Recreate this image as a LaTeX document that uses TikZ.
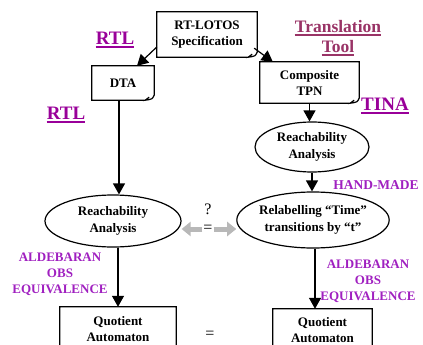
\documentclass[tikz,border=0pt]{standalone}
\usepackage{fontspec}
\setmainfont{Liberation Serif}
\usetikzlibrary{arrows.meta,shapes.geometric,calc}
\definecolor{rtlpurple}{RGB}{153,0,153}
\definecolor{toolred}{RGB}{153,51,102}
\definecolor{notepurple}{RGB}{160,32,192}
\begin{document}
\begin{tikzpicture}[x=1pt,y=-1pt,
  note/.style={inner sep=0pt,align=center,font=\fontsize{13}{16}\selectfont\bfseries},
  proc/.style={ellipse,draw,line width=1.2pt,inner sep=0pt,align=center,font=\fontsize{13}{17}\selectfont\bfseries},
  tool/.style={inner sep=0pt,text depth=0pt,font=\fontsize{19}{22}\selectfont\bfseries,text=rtlpurple},
  hint/.style={inner sep=0pt,align=center,font=\fontsize{13}{16}\selectfont\bfseries,text=notepurple},
  flow/.style={line width=1.2pt,-{Triangle[length=11pt,width=12pt]}},
  same/.style={line width=5pt,draw=black!28,-{Triangle[length=9pt,width=14pt]}}
  ]
  \clip (0,0) rectangle (423,345);
  \useasboundingbox (0,0) rectangle (423,345);

  \node[note,minimum width=100pt,minimum height=45pt] (spec) at (207,34.5) {RT-LOTOS\\Specification};
  \node[note,minimum width=62pt,minimum height=34pt] (dta) at (123,83) {DTA};
  \node[note,minimum width=99pt,minimum height=41pt] (tpn) at (309.5,82.5) {Composite\\TPN};
  \node[note,minimum width=116pt,minimum height=45pt] (quotl) at (118,329.5) {Quotient\\Automaton};
  \node[note,minimum width=99pt,minimum height=43pt] (quotr) at (322.5,330.5) {Quotient\\Automaton};
  \foreach \n in {spec,dta,tpn,quotl,quotr}
    \draw[line width=1.2pt] ($(\n.south east)+(-9pt,0pt)$) -- (\n.south west) -- (\n.north west) -- (\n.north east) -- ($(\n.south east)+(0pt,5pt)$)
      .. controls ($(\n.south east)+(-2pt,1pt)$) .. ($(\n.south east)+(-9pt,0pt)$) -- ($(\n.south east)+(-5pt,3pt)$);

  \node[proc,minimum width=114pt,minimum height=50pt] (reachr) at (312,147) {Reachability\\Analysis};
  \node[proc,minimum width=145pt,minimum height=56pt] (relab) at (313,220) {Relabelling “Time”\\transitions by “t”};
  \node[proc,minimum width=136pt,minimum height=52pt] (reachl) at (113,221) {Reachability\\Analysis};

  \node[tool] (rtla) at (115,38) {RTL};
  \node[tool] (rtlb) at (66,113) {RTL};
  \node[tool] (tina) at (385,104) {TINA};
  \node[tool,text=toolred,font=\fontsize{17.5}{20}\selectfont\bfseries] (trans) at (338,26) {Translation};
  \node[tool,text=toolred,font=\fontsize{17.5}{20}\selectfont\bfseries] (tooln) at (338,46) {Tool};
  \foreach \n/\c in {rtla/rtlpurple,rtlb/rtlpurple,tina/rtlpurple,trans/toolred,tooln/toolred}
    \draw[line width=1.6pt,\c] ([yshift=-2.5pt]\n.south west) -- ([yshift=-2.5pt]\n.south east);
  \node[hint,font=\fontsize{13.5}{16}\selectfont\bfseries] (hand) at (376,185) {HAND-MADE};
  \node[hint] (aldl) at (60,274) {ALDEBARAN\\OBS\\EQUIVALENCE};
  \node[hint] (aldr) at (368,281) {ALDEBARAN\\OBS\\EQUIVALENCE};

  \node[font=\fontsize{16}{16}\selectfont] (ask) at (208,209) {?};
  \node[inner sep=1pt,font=\fontsize{16}{16}\selectfont] (eq) at (208,229) {=};
  \node[font=\fontsize{16}{16}\selectfont] (eqb) at (210,335) {=};

  \draw[flow] ([yshift=-12.5pt]spec.west) -- ([xshift=14pt]dta.north);
  \draw[flow] ([shift={(-3pt,9pt)}]spec.south east) -- ([xshift=13pt]tpn.north west);
  \draw[flow] ([xshift=-4pt]dta.south) -- ([xshift=-4pt]dta.south |- reachl.north);
  \draw[flow] (tpn.south) -- (tpn.south |- reachr.north);
  \draw[flow] (reachr.south) -- (reachr.south |- relab.north);
  \draw[flow] (quotl.north |- reachl.south) -- (quotl.north);
  \draw[flow] ([xshift=2pt]relab.south) -- ([xshift=2pt]relab.south |- quotr.north);
  \draw[same] (eq.west) -- (eq.west -| reachl.east);
  \draw[same] (eq.east) -- (eq.east -| relab.west);
\end{tikzpicture}
\end{document}
